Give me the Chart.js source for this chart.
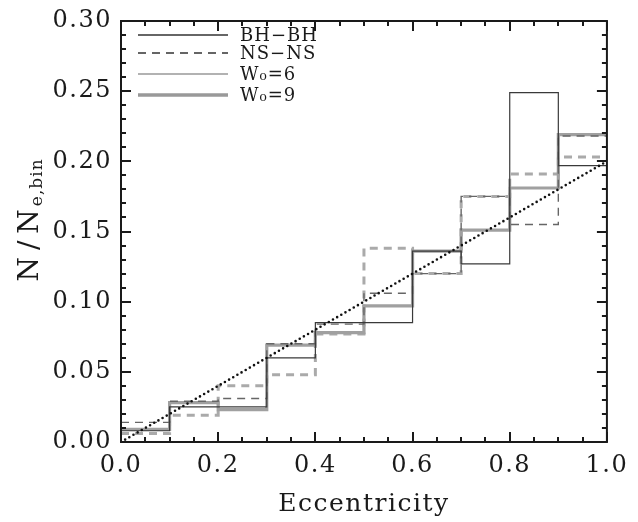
<!DOCTYPE html>
<html><head><meta charset="utf-8">
<script src="https://cdn.jsdelivr.net/npm/chart.js@4.4.0/dist/chart.umd.min.js"></script>
<style>html,body{margin:0;padding:0;background:#fff}</style>
</head><body>
<canvas id="c" width="638" height="522"></canvas>
<script>
// ---- data ----
const binEdges = [0.0, 0.1, 0.2, 0.3, 0.4, 0.5, 0.6, 0.7, 0.8, 0.9, 1.0];
const bhbhW6 = [0.008, 0.025, 0.025, 0.060, 0.085, 0.085, 0.136, 0.127, 0.249, 0.197];
const bhbhW9 = [0.009, 0.028, 0.023, 0.069, 0.078, 0.097, 0.136, 0.151, 0.181, 0.219];
const nsnsW6 = [0.014, 0.029, 0.031, 0.070, 0.084, 0.106, 0.120, 0.175, 0.155, 0.218];
const nsnsW9 = [0.006, 0.019, 0.040, 0.048, 0.077, 0.138, 0.120, 0.175, 0.191, 0.203];
const refX = [0.0, 1.0];
const refY = [0.0, 0.2];
const xTickValues = [0.0, 0.2, 0.4, 0.6, 0.8, 1.0];
const xTickLabels = ['0.0', '0.2', '0.4', '0.6', '0.8', '1.0'];
const yTickValues = [0.00, 0.05, 0.10, 0.15, 0.20, 0.25, 0.30];
const yTickLabels = ['0.00', '0.05', '0.10', '0.15', '0.20', '0.25', '0.30'];
const legendLabels = ['BH\u2212BH', 'NS\u2212NS', 'W\u2080=6', 'W\u2080=9'];
const xTitle = 'Eccentricity';
const yTitleMain = 'N/N';
const yTitleSub = 'e,bin';

const FONT = 'DejaVu Serif';
const INK = '#1a1a1a';

function stepData(vals) {
  return binEdges.map((e, i) => ({ x: e, y: vals[Math.min(i, vals.length - 1)] }));
}

const legendStyles = [
  { color: '#333', width: 1.3, dash: [] },
  { color: '#333', width: 1.3, dash: [8, 6] },
  { color: '#999', width: 1.5, dash: [] },
  { color: '#999', width: 3.5, dash: [] }
];

const decor = {
  id: 'decor',
  beforeDraw(chart) { chart.ctx.letterSpacing = '1.5px'; },
  afterDraw(chart) {
    const { ctx, chartArea: a, scales: { x, y } } = chart;
    ctx.save();
    ctx.letterSpacing = '0px';
    ctx.setLineDash([]);
    ctx.strokeStyle = INK;
    ctx.lineWidth = 2;
    ctx.lineCap = 'butt';
    ctx.beginPath();
    for (let i = 0; i <= 20; i++) {
      const px = Math.round(x.getPixelForValue(i * 0.05));
      const L = (i % 4 === 0) ? 10 : 5;
      ctx.moveTo(px, a.bottom); ctx.lineTo(px, a.bottom - L);
      ctx.moveTo(px, a.top); ctx.lineTo(px, a.top + L);
    }
    for (let i = 0; i <= 30; i++) {
      const py = Math.round(y.getPixelForValue(i * 0.01));
      const L = (i % 5 === 0) ? 10 : 5;
      ctx.moveTo(a.left, py); ctx.lineTo(a.left + L, py);
      ctx.moveTo(a.right, py); ctx.lineTo(a.right - L, py);
    }
    ctx.stroke();
    ctx.strokeRect(a.left, a.top, a.right - a.left, a.bottom - a.top);

    // legend
    const rows = [35, 53, 74, 95];
    ctx.font = '18px "' + FONT + '"';
    ctx.fillStyle = INK;
    ctx.textBaseline = 'middle';
    ctx.textAlign = 'left';
    legendLabels.forEach((lab, i) => {
      const s = legendStyles[i];
      ctx.beginPath();
      ctx.strokeStyle = s.color; ctx.lineWidth = s.width; ctx.setLineDash(s.dash);
      ctx.moveTo(138, rows[i]); ctx.lineTo(228, rows[i]);
      ctx.stroke();
      ctx.setLineDash([]);
      ctx.letterSpacing = '1px';
      ctx.fillText(lab, 240, rows[i] + 1);
      ctx.letterSpacing = '0px';
    });

    // y title with subscript
    ctx.save();
    ctx.translate(38, 220);
    ctx.rotate(-Math.PI / 2);
    ctx.textBaseline = 'alphabetic';
    const mainFont = '28px "' + FONT + '"', subFont = '17px "' + FONT + '"';
    const mainSp = 7, subSp = 1;
    ctx.font = mainFont; ctx.letterSpacing = mainSp + 'px';
    const w1 = ctx.measureText(yTitleMain).width - mainSp;
    ctx.font = subFont; ctx.letterSpacing = subSp + 'px';
    const w2 = ctx.measureText(yTitleSub).width;
    const x0 = -(w1 + w2 + 3) / 2;
    ctx.font = mainFont; ctx.letterSpacing = mainSp + 'px';
    ctx.fillText(yTitleMain, x0, 0);
    ctx.font = subFont; ctx.letterSpacing = subSp + 'px';
    ctx.fillText(yTitleSub, x0 + w1 + 3, 4);
    ctx.restore();

    ctx.restore();
    ctx.letterSpacing = '0px';
  }
};

new Chart(document.getElementById('c'), {
  type: 'line',
  data: {
    datasets: [
      { label: 'reference', data: refX.map((v, i) => ({ x: v, y: refY[i] })), borderColor: '#111', borderWidth: 2.6, borderDash: [0, 4.8], borderCapStyle: 'round', pointRadius: 0, fill: false },
      { label: 'BH-BH W0=6', data: stepData(bhbhW6), stepped: 'before', borderColor: '#3a3a3a', borderWidth: 1.2, pointRadius: 0, fill: false },
      { label: 'NS-NS W0=6', data: stepData(nsnsW6), stepped: 'before', borderColor: '#666', borderWidth: 1.4, borderDash: [8, 6], pointRadius: 0, fill: false },
      { label: 'BH-BH W0=9', data: stepData(bhbhW9), stepped: 'before', borderColor: '#a0a0a0', borderWidth: 3.2, pointRadius: 0, fill: false },
      { label: 'NS-NS W0=9', data: stepData(nsnsW9), stepped: 'before', borderColor: '#aaaaaa', borderWidth: 3.0, borderDash: [8, 6], pointRadius: 0, fill: false }
    ]
  },
  options: {
    responsive: false,
    animation: false,
    devicePixelRatio: 1,
    layout: { padding: { left: 0, top: 11, right: 22, bottom: 0 } },
    plugins: { legend: { display: false }, tooltip: { enabled: false } },
    elements: { point: { radius: 0 }, line: { tension: 0 } },
    scales: {
      x: {
        type: 'linear', min: 0, max: 1,
        grid: { display: false, drawTicks: false },
        border: { display: false },
        afterBuildTicks: s => { s.ticks = xTickValues.map(v => ({ value: v })); },
        afterFit: s => { s.height = 80; },
        ticks: { callback: (v, i) => xTickLabels[i], font: { family: FONT, size: 24, lineHeight: 1 }, color: INK, padding: 12, maxRotation: 0, autoSkip: false },
        title: { display: true, text: xTitle, font: { family: FONT, size: 25, lineHeight: 1.2 }, color: INK, padding: { top: 0, bottom: 3 } }
      },
      y: {
        type: 'linear', min: 0, max: 0.3,
        grid: { display: false, drawTicks: false },
        border: { display: false },
        afterBuildTicks: s => { s.ticks = yTickValues.map(v => ({ value: v })); },
        afterFit: s => { s.width = 121; },
        ticks: { callback: (v, i) => yTickLabels[i], font: { family: FONT, size: 24, lineHeight: 1 }, color: INK, padding: 9, autoSkip: false }
      }
    }
  },
  plugins: [decor]
});
</script>
</body></html>
